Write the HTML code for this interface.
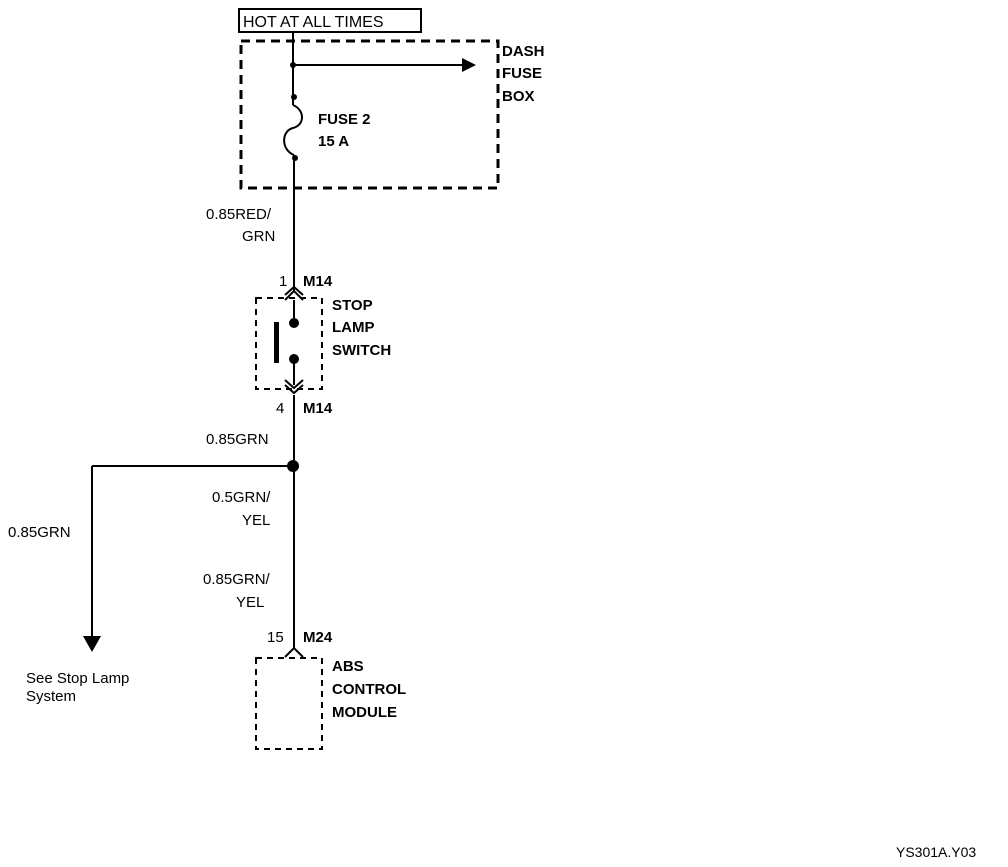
<!DOCTYPE html>
<html><head><style>
body{margin:0;background:#fff}
svg text{font-family:"Liberation Sans",sans-serif;font-size:15px;fill:#000}
.b{font-weight:bold}
</style></head><body>
<svg width="1008" height="862" viewBox="0 0 1008 862" xmlns="http://www.w3.org/2000/svg">
<rect x="239" y="9" width="182" height="23" fill="none" stroke="#000" stroke-width="2"/>
<text x="243" y="27" style="font-size:16px">HOT AT ALL TIMES</text>
<rect x="241" y="41" width="257" height="147" fill="none" stroke="#000" stroke-width="3" stroke-dasharray="9,6"/>
<text class="b" x="502" y="56">DASH</text>
<text class="b" x="502" y="78">FUSE</text>
<text class="b" x="502" y="101">BOX</text>
<g stroke="#000" stroke-width="2" fill="none">
<line x1="293" y1="32" x2="293" y2="105"/>
<line x1="293" y1="65" x2="465" y2="65"/>
<path d="M293,105 C305,110 305,125 293,128 C281,131 281,150 294,155"/>
<line x1="294" y1="155" x2="294" y2="292"/>
<line x1="294" y1="300" x2="294" y2="318"/>
<line x1="294" y1="362" x2="294" y2="385"/>
<line x1="294" y1="395" x2="294" y2="648"/>
<line x1="293" y1="466" x2="92" y2="466"/>
<line x1="92" y1="466" x2="92" y2="636"/>
<polyline points="285,300 294,291 303,300"/>
<polyline points="285,295 294,287 303,295"/>
<polyline points="285,385 294,393 303,385"/>
<polyline points="285,380 294,388 303,380"/>
<polyline points="285,657 294,648 303,657"/>
</g>
<polygon points="462,58 476,65 462,72" fill="#000"/>
<polygon points="83,636 101,636 92,652" fill="#000"/>
<circle cx="293" cy="65" r="3" fill="#000"/>
<circle cx="294" cy="97" r="3" fill="#000"/>
<circle cx="295" cy="158" r="3" fill="#000"/>
<circle cx="293" cy="466" r="6" fill="#000"/>
<text class="b" x="318" y="124">FUSE 2</text>
<text class="b" x="318" y="146">15 A</text>
<text x="206" y="219">0.85RED/</text>
<text x="242" y="241">GRN</text>
<text x="279" y="286">1</text>
<text class="b" x="303" y="286">M14</text>
<rect x="256" y="298" width="66" height="91" fill="none" stroke="#000" stroke-width="2" stroke-dasharray="6,5"/>
<circle cx="294" cy="323" r="5" fill="#000"/>
<circle cx="294" cy="359" r="5" fill="#000"/>
<rect x="274" y="322" width="5" height="41" fill="#000"/>
<text class="b" x="332" y="310">STOP</text>
<text class="b" x="332" y="332">LAMP</text>
<text class="b" x="332" y="355">SWITCH</text>
<text x="276" y="413">4</text>
<text class="b" x="303" y="413">M14</text>
<text x="206" y="444">0.85GRN</text>
<text x="212" y="502">0.5GRN/</text>
<text x="242" y="525">YEL</text>
<text x="8" y="537">0.85GRN</text>
<text x="203" y="584">0.85GRN/</text>
<text x="236" y="607">YEL</text>
<text x="267" y="642">15</text>
<text class="b" x="303" y="642">M24</text>
<rect x="256" y="658" width="66" height="91" fill="none" stroke="#000" stroke-width="2" stroke-dasharray="6,5"/>
<text class="b" x="332" y="671">ABS</text>
<text class="b" x="332" y="694">CONTROL</text>
<text class="b" x="332" y="717">MODULE</text>
<text x="26" y="683">See Stop Lamp</text>
<text x="26" y="701">System</text>
<text x="896" y="857" style="font-size:14px">YS301A.Y03</text>
</svg>
</body></html>
